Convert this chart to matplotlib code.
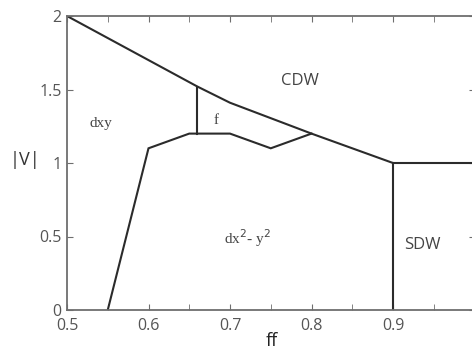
import numpy as np
import matplotlib
matplotlib.use('Agg')
import matplotlib.pyplot as plt
from matplotlib.ticker import MultipleLocator

# phase boundaries
cdw_x = [0.5, 0.66, 0.7, 0.8, 0.9, 1.0]
cdw_y = [2.0, 1.52, 1.41, 1.2, 1.0, 1.0]

low_x = [0.55, 0.6, 0.65, 0.7, 0.75, 0.8]
low_y = [0.0, 1.1, 1.2, 1.2, 1.1, 1.2]

f_x = [0.66, 0.66]
f_y = [1.2, 1.52]

sdw_x = [0.9, 0.9]
sdw_y = [0.0, 1.0]

# region labels
labels = ['dxy', 'f', 'CDW', r'dx$^2$- y$^2$', 'SDW']
label_x = [0.541, 0.683, 0.786, 0.722, 0.936]
label_y = [1.27, 1.29, 1.56, 0.49, 0.44]
label_serif = [True, True, False, True, False]

fig = plt.figure(figsize=(4.72, 3.51), dpi=100)
ax = fig.add_axes([67/472, 41/351, 407.5/472, 294/351])

line_col = '#2b2b2b'
for xs, ys in [(cdw_x, cdw_y), (low_x, low_y), (f_x, f_y), (sdw_x, sdw_y)]:
    ax.plot(xs, ys, color=line_col, lw=1.5, solid_joinstyle='miter')

for t, x, y, serif in zip(labels, label_x, label_y, label_serif):
    if serif:
        ax.text(x, y, t, ha='center', va='center', fontsize=11,
                family='Liberation Serif', color='#444444')
    else:
        ax.text(x, y, t, ha='center', va='center', fontsize=12,
                family='Open Sans', color='#444444')

ax.set_xlim(0.5, 1.0)
ax.set_ylim(0, 2)
ax.xaxis.set_minor_locator(MultipleLocator(0.05))
ax.set_xticks([0.5, 0.6, 0.7, 0.8, 0.9])
ax.set_xticklabels(['0.5', '0.6', '0.7', '0.8', '0.9'])
ax.set_yticks([0, 0.5, 1, 1.5, 2])
ax.set_yticklabels(['0', '0.5', '1', '1.5', '2'])

spine_col = '#6e6e6e'
for s in ax.spines.values():
    s.set_color(spine_col)
    s.set_linewidth(1.3)
ax.tick_params(which='both', direction='in', top=True, right=True,
               colors=spine_col, labelcolor='#555555', labelsize=11.5)
ax.tick_params(which='both', length=4)
ax.tick_params(axis='x', pad=6)
ax.tick_params(axis='y', pad=4)
for lab in ax.get_xticklabels() + ax.get_yticklabels():
    lab.set_family('Open Sans')

fig.text(272/472, 1 - 341/351, 'ff', ha='center', va='center', fontsize=13,
         family='Open Sans', color='#222222')
fig.text(25/472, 1 - 160/351, '|V|', ha='center', va='center', fontsize=13,
         family='Open Sans', color='#333333')

fig.savefig('out.png', dpi=100)
